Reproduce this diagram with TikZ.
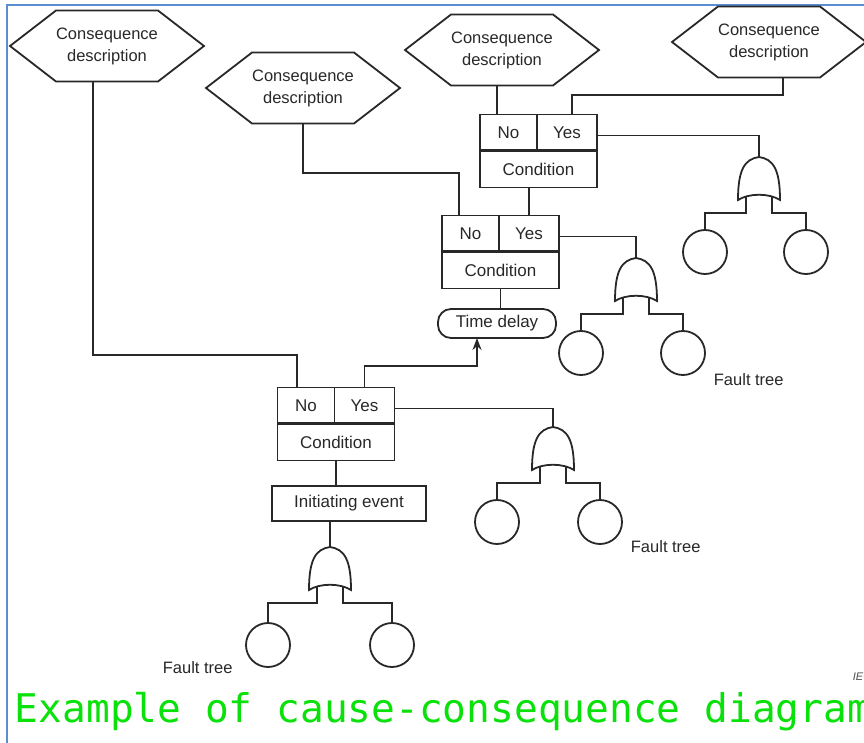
\documentclass[tikz,border=0pt]{standalone}
\usepackage{fontspec}
\setmainfont{Liberation Sans}
\newfontfamily\capfont{DejaVu Sans Mono}
\usetikzlibrary{arrows.meta}
\definecolor{inkgray}{RGB}{40,40,40}
\definecolor{frameblue}{RGB}{91,141,210}
\definecolor{capgreen}{RGB}{10,225,10}
\tikzset{
  hexbox/.style={minimum width=194pt,minimum height=71pt,inner sep=0pt,outer sep=0pt,align=center,font=\fontsize{16.5}{22}\selectfont},
  condbox/.style={draw,minimum width=117pt,minimum height=37pt,inner sep=0pt,outer sep=0pt,font=\fontsize{17}{20}\selectfont},
  cellbox/.style={draw,minimum height=36pt,inner sep=0pt,outer sep=0pt,font=\fontsize{17}{20}\selectfont},
  evtbox/.style={draw,minimum height=35pt,inner sep=0pt,outer sep=0pt,font=\fontsize{17}{20}\selectfont},
  basicev/.style={draw,circle,minimum size=44pt,inner sep=0pt,outer sep=0pt},
  ftlabel/.style={anchor=base west,inner sep=0pt,font=\fontsize{16.5}{18}\selectfont},
  uparrow/.style={-{Stealth[length=12pt,width=9pt]}},
  orgate/.pic={
    \draw (0,0) coordinate (-in) .. controls (14,2) and (21,12) .. (21,43)
      .. controls (10,36) and (-10,36) .. (-21,43)
      .. controls (-21,12) and (-14,2) .. (0,0) -- cycle;
    \coordinate (-l) at (-13,39); \coordinate (-r) at (13,39);
  }
}
\begin{document}
\begin{tikzpicture}[x=1pt,y=-1pt,line width=1.8pt,color=inkgray]
    \useasboundingbox (0,0) rectangle (864,743);
    \clip (0,0) rectangle (864,743);
    \draw[frameblue,line width=2pt] (7,743) -- (7,5) -- (864,5);
    % consequences
    \node[hexbox] (hexA) at (107,46) {Consequence\\description};
    \node[hexbox] (hexB) at (303,88) {Consequence\\description};
    \node[hexbox] (hexC) at (502,50) {Consequence\\description};
    \node[hexbox] (hexD) at (769,42) {Consequence\\description};
    \foreach \h in {hexA,hexB,hexC,hexD}
        \draw (\h.west) -- ([xshift=46pt]\h.north west) -- ([xshift=-46pt]\h.north east) -- (\h.east)
            -- ([xshift=-46pt]\h.south east) -- ([xshift=46pt]\h.south west) -- cycle;
    % conditions
    \node[condbox] (condA) at (336,442) {Condition};
    \node[condbox] (condB) at (500.5,270) {Condition};
    \node[condbox] (condC) at (538.5,169) {Condition};
    \foreach \c/\n/\y in {condA/noA/yesA,condB/noB/yesB,condC/noC/yesC}{
        \node[cellbox,minimum width=57pt,anchor=south west] (\n) at (\c.north west) {No};
        \node[cellbox,minimum width=60pt,anchor=south east] (\y) at (\c.north east) {Yes};
        \draw[line width=3pt] (\c.north west) -- (\c.north east);
    }
    \node[evtbox,minimum width=154pt] (init) at (349,503.5) {Initiating event};
    \node[draw,rounded corners=13pt,minimum width=118pt,minimum height=29pt,inner sep=0pt,outer sep=0pt,font=\fontsize{17}{20}\selectfont] (delay) at (497,323.5) {Time delay};
    % fault trees
    \pic (gateA) at (330,547) {orgate};
    \pic (gateB) at (553,427) {orgate};
    \pic (gateC) at (636,258) {orgate};
    \pic (gateD) at (759,157) {orgate};
    \node[basicev] (evA1) at (268,645) {};
    \node[basicev] (evA2) at (392,645) {};
    \node[basicev] (evB1) at (497,522) {};
    \node[basicev] (evB2) at (600,522) {};
    \node[basicev] (evC1) at (581,353) {};
    \node[basicev] (evC2) at (683,353) {};
    \node[basicev] (evD1) at (705,252) {};
    \node[basicev] (evD2) at (806,252) {};
    \foreach \g/\l/\r in {gateA/evA1/evA2,gateB/evB1/evB2,gateC/evC1/evC2,gateD/evD1/evD2}{
        \draw (\g-l) -- ++(0,17) -| (\l.north);
        \draw (\g-r) -- ++(0,17) -| (\r.north);
    }
    \node[ftlabel] (ftA) at (162,673) {Fault tree};
    \node[ftlabel] (ftB) at (630,552) {Fault tree};
    \node[ftlabel] (ftC) at (713,385) {Fault tree};
    % connectors
    \coordinate (bendA) at (297,355);
    \coordinate (bendB) at (459,173);
    \coordinate (bendD) at (572,95);
    \coordinate (bendE) at (477,366);
    \draw ([xshift=-14pt]hexA.south) |- (bendA) -- (bendA |- noA.north);
    \draw (hexB.south) |- (bendB) -- (bendB |- noB.north);
    \draw ([xshift=-5pt]hexC.south) -- ([xshift=-5pt]hexC.south |- noC.north);
    \draw ([xshift=14pt]hexD.south) |- (bendD) -- (bendD |- yesC.north);
    \draw ([yshift=-3pt]yesC.east) -| (gateD-in);
    \draw (yesB.north) -- (yesB.north |- condC.south);
    \draw ([yshift=-3pt]yesB.east) -| (gateC-in);
    \draw (condB.south) -- (condB.south |- delay.north);
    \draw[uparrow] (yesA.north) |- (bendE) -- (bendE |- delay.south);
    \draw ([yshift=-3pt]yesA.east) -| (gateB-in);
    \draw (condA.south) -- (condA.south |- init.north);
    \draw (gateA-in |- init.south) -- (gateA-in);
    % caption
    \node[anchor=base west,inner sep=0pt,text=black!70,font=\fontsize{11}{12}\selectfont\itshape] (src) at (852,680) {IEC};
    \node[anchor=base west,inner sep=0pt,text=capgreen,font=\fontsize{39.5}{40}\selectfont\capfont] (caption) at (14,722) {Example of cause-consequence diagram};
\end{tikzpicture}
\end{document}
